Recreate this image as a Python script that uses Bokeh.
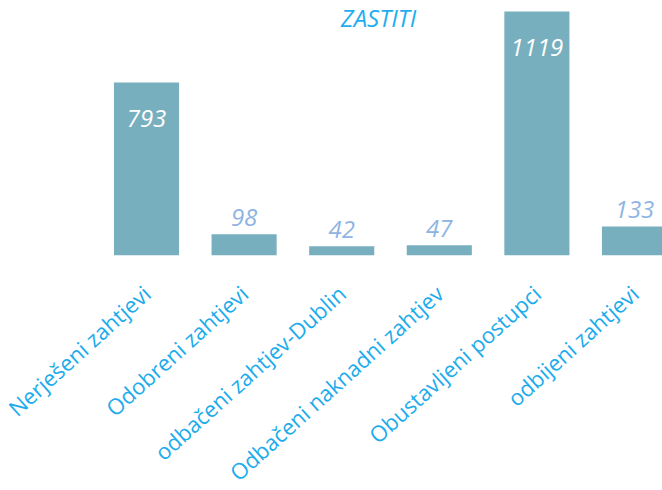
import math
from bokeh.plotting import figure
from bokeh.models import ColumnDataSource, FixedTicker, Range1d, Label
from bokeh.core.properties import value
from bokeh.embed import file_html
from bokeh.resources import INLINE

categories = ["Nerješeni zahtjevi", "Odobreni zahtjevi", "odbačeni zahtjev-Dublin",
              "Odbačeni naknadni zahtjev", "Obustavljeni postupci", "odbijeni zahtjevi"]
counts = [793, 98, 42, 47, 1119, 133]
label_inside = [True, False, False, False, True, False]
title_text = "ZASTITI"

xs = list(range(len(categories)))
labels = [str(c) for c in counts]

BAR = "#77afbe"
AXIS_C = "#1cacec"
OUT_C = "#8eb4e3"

p = figure(frame_width=662, frame_height=255, output_backend="svg", toolbar_location=None,
           x_range=Range1d(-1.496, 5.287), y_range=Range1d(0, 1169.4),
           min_border_left=0, min_border_right=0, min_border_top=0, min_border_bottom=0)
p.outline_line_color = None
p.grid.visible = False
p.yaxis.visible = False

src = ColumnDataSource(dict(x=xs, top=counts))
p.vbar(x="x", top="top", width=0.667, source=src, fill_color=BAR, line_color=None)

ins = ColumnDataSource(dict(x=[x for x, f in zip(xs, label_inside) if f],
                            y=[c for c, f in zip(counts, label_inside) if f],
                            t=[l for l, f in zip(labels, label_inside) if f]))
outs = ColumnDataSource(dict(x=[x for x, f in zip(xs, label_inside) if not f],
                             y=[c for c, f in zip(counts, label_inside) if not f],
                             t=[l for l, f in zip(labels, label_inside) if not f]))
p.text(x="x", y="y", text="t", source=ins, text_align="center", text_baseline="alphabetic",
       y_offset=36, text_color="white", text_font=value("Open Sans"),
       text_font_style="italic", text_font_size="24px")
p.text(x="x", y="y", text="t", source=outs, text_align="center", text_baseline="alphabetic",
       y_offset=-17, text_color=OUT_C, text_font=value("Open Sans"),
       text_font_style="italic", text_font_size="24px")

p.add_layout(Label(x=378, y=p.y_range.end, x_units="screen", y_units="data", text=title_text,
                   text_align="center", text_baseline="top", text_color="#1eaef0", y_offset=0,
                   text_font="Open Sans", text_font_style="italic", text_font_size="24px"))

ax = p.xaxis[0]
ax.ticker = FixedTicker(ticks=xs)
ax.major_label_overrides = {i: c for i, c in zip(xs, categories)}
ax.major_label_orientation = math.radians(42)
ax.axis_line_color = None
ax.major_tick_line_color = None
ax.minor_tick_line_color = None
ax.major_label_text_color = AXIS_C
ax.major_label_text_font = "Open Sans"
ax.major_label_text_font_size = "22px"
ax.major_label_standoff = 28

open("out.html", "w").write(file_html(p, INLINE))
